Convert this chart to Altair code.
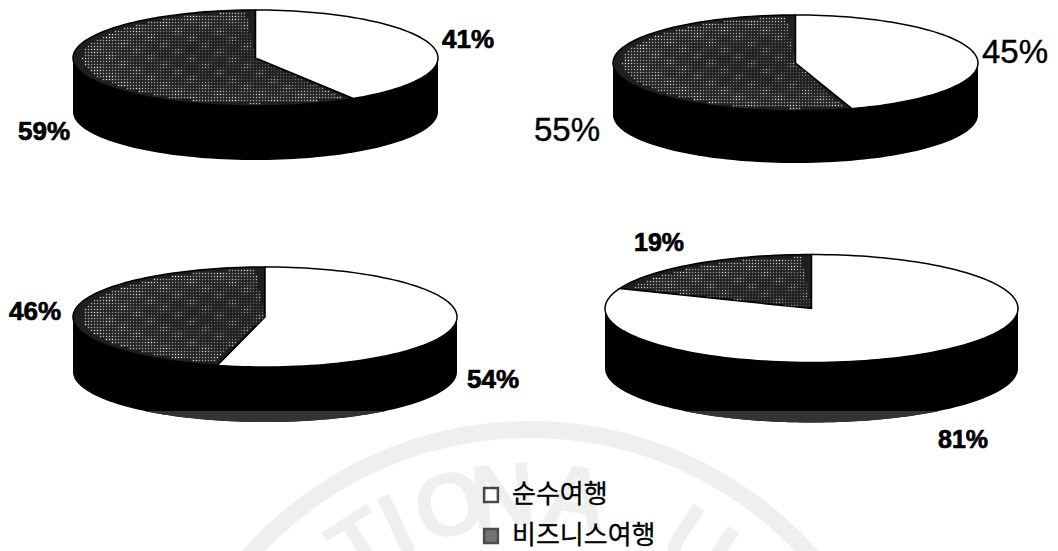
import math
import altair as alt

# Share of pure travel in each pie; business travel takes the remainder.
pure_share = [41, 45, 54, 81]
business_share = [59, 55, 46, 19]
series_names = ["순수여행", "비즈니스여행"]

# Pie geometry: centre, radii, wall depth, and the y where the base shadow begins.
pie_cx = [255.5, 795.5, 265, 811.5]
pie_cy = [58, 63, 317, 308.5]
pie_rx = [182.5, 182.5, 192, 206.5]
pie_ry = [48, 48, 50, 54]
pie_depth = [54, 52, 55, 60]
pie_shadow_y = [None, None, 411, 411]

# Percentage label placement: pure-travel label, then business-travel label.
pure_label_xy = [(468, 40), (1015, 53), (493, 380), (963, 440)]
biz_label_xy = [(44, 132), (567, 131), (35, 312), (659, 243)]
label_size = [26, 33, 26, 25]
label_weight = ["bold", "normal", "bold", "bold"]
label_halo = [0.7, 0.4, 0.7, 0.7]

FACE_DARK = "#1f1f1f"
WALL = "#000000"
SHADOW = "#333333"
RING = "#efefef"

W, H = 1058, 551


def on_page(chart):
    # Identity projection: lon/lat are page pixels, y growing downward.
    return chart.project(type="identity", scale=1, translate=[0, 0])


def feature(ring, fill, stroke, width=0):
    return {
        "type": "Feature",
        "geometry": {"type": "Polygon", "coordinates": [ring]},
        "properties": {"fill": fill, "stroke": stroke, "width": width},
    }


def rim(i, deg, shift=0.0):
    a = math.radians(deg)
    return [pie_cx[i] + pie_rx[i] * math.sin(a), pie_cy[i] - pie_ry[i] * math.cos(a) + shift]


def wedge(i, start, end):
    steps = max(2, int(abs(end - start) / 2))
    pts = [[pie_cx[i], pie_cy[i]]]
    pts += [rim(i, start + (end - start) * k / steps) for k in range(steps + 1)]
    pts.append([pie_cx[i], pie_cy[i]])
    return pts


def wall(i):
    d = pie_depth[i]
    pts = [rim(i, a, d) for a in range(90, 271, 2)]
    pts += [rim(i, a) for a in range(270, 89, -2)]
    pts.append(pts[0])
    return pts


def shadow(i):
    limit = pie_shadow_y[i]
    d = pie_depth[i]
    pts = [rim(i, a / 2, d) for a in range(180, 541)]
    pts = [p for p in pts if p[1] >= limit]
    pts = [[pts[0][0], limit]] + pts + [[pts[-1][0], limit]]
    pts.append(pts[0])
    return pts


# Faint circular seal sitting behind the lower part of the page.
SEAL_X, SEAL_Y, SEAL_OUT, SEAL_IN = 530, 805, 384, 367
seal_letters = ["T", "I", "O", "N", "A", "U"]
seal_angles = [-33, -25.5, -15, -5, 8.5, 33]
SEAL_TEXT_R = 280


def seal_band():
    pts = []
    for a in range(-70, 71):
        r = math.radians(a)
        pts.append([SEAL_X + SEAL_OUT * math.sin(r), SEAL_Y - SEAL_OUT * math.cos(r)])
    for a in range(70, -71, -1):
        r = math.radians(a)
        pts.append([SEAL_X + SEAL_IN * math.sin(r), SEAL_Y - SEAL_IN * math.cos(r)])
    pts.append(pts[0])
    return pts


features = [feature(seal_band(), RING, RING)]
for i in range(4):
    sweep = pure_share[i] * 3.6
    features.append(feature(wall(i), WALL, WALL))
    if pie_shadow_y[i] is not None:
        features.append(feature(shadow(i), SHADOW, SHADOW))
    features.append(feature(wedge(i, sweep, 360), FACE_DARK, WALL, 1.5))
    features.append(feature(wedge(i, 0, sweep), "#ffffff", WALL, 1.5))

# Halftone dots that give the business-travel faces their grainy look:
# dim in the middle, brighter in patches toward the rim.
dots = []
for i in range(4):
    start = pure_share[i] * 3.6
    for px in range(int(pie_cx[i] - pie_rx[i]), int(pie_cx[i] + pie_rx[i]), 3):
        for py in range(int(pie_cy[i] - pie_ry[i]), int(pie_cy[i] + pie_ry[i]), 3):
            u = (px + 0.5 - pie_cx[i]) / pie_rx[i]
            v = (py + 0.5 - pie_cy[i]) / pie_ry[i]
            if u * u + v * v > 0.9:
                continue
            ang = math.degrees(math.atan2(u, -v)) % 360
            if ang < start + 2 or ang > 357:
                continue
            patch = 0.5 + 0.5 * math.cos(px * 0.23) * math.cos(py * 0.31 + px * 0.07)
            edge = max(0.0, u * u + v * v - 0.15)
            dots.append({"lon": px + 0.5, "lat": py + 0.5,
                         "tone": round(min(1.0, 0.25 + 0.55 * patch ** 3 + 0.6 * edge), 2)})

faces = on_page(alt.Chart(alt.Data(values=features, format=alt.DataFormat(type="json"))).mark_geoshape().encode(
    fill=alt.Fill("properties.fill:N", scale=None),
    stroke=alt.Stroke("properties.stroke:N", scale=None),
    strokeWidth=alt.StrokeWidth("properties.width:Q", scale=None),
))

grain = on_page(alt.Chart(alt.Data(values=dots)).mark_square(size=2, color="#e4e4e4", filled=True).encode(
    longitude="lon:Q",
    latitude="lat:Q",
    opacity=alt.Opacity("tone:Q", scale=None),
))

seal_text = []
for ch, ang in zip(seal_letters, seal_angles):
    r = math.radians(ang)
    row = {"t": ch, "lon": SEAL_X + SEAL_TEXT_R * math.sin(r), "lat": SEAL_Y - SEAL_TEXT_R * math.cos(r)}
    seal_text.append(on_page(alt.Chart(alt.Data(values=[row])).mark_text(
        font="Liberation Sans", fontSize=90, fontWeight="bold", color=RING, angle=ang % 360,
        align="center", baseline="alphabetic",
    ).encode(longitude="lon:Q", latitude="lat:Q", text="t:N")))

label_layers = []
for i in range(4):
    rows = [
        {"t": f"{pure_share[i]}%", "lon": pure_label_xy[i][0], "lat": pure_label_xy[i][1]},
        {"t": f"{business_share[i]}%", "lon": biz_label_xy[i][0], "lat": biz_label_xy[i][1]},
    ]
    label_layers.append(on_page(alt.Chart(alt.Data(values=rows)).mark_text(
        font="Liberation Sans", fontSize=label_size[i], fontWeight=label_weight[i],
        color="#000000", stroke="#000000", strokeWidth=label_halo[i], align="center", baseline="middle",
    ).encode(longitude="lon:Q", latitude="lat:Q", text="t:N")))

# Key below the pies.
key_rows = [
    {"t": series_names[0], "mx": 491, "my": 495, "tx": 512, "fill": "#ffffff"},
    {"t": series_names[1], "mx": 491, "my": 536, "tx": 512, "fill": "#3a3a3a"},
]
key_marks = on_page(alt.Chart(alt.Data(values=key_rows)).mark_square(
    size=190, filled=True, stroke="#000000", strokeWidth=2.5
).encode(
    longitude="mx:Q",
    latitude="my:Q",
    fill=alt.Fill("fill:N", scale=None),
))
key_text = on_page(alt.Chart(alt.Data(values=key_rows)).mark_text(
    font="Noto Sans CJK KR", fontSize=26, color="#000000", stroke="#000000", strokeWidth=0.3,
    align="left", baseline="middle",
).encode(longitude="tx:Q", latitude="my:Q", text="t:N"))

chart = alt.layer(
    *seal_text, faces, grain, *label_layers, key_marks, key_text
).properties(
    width=W, height=H, padding=0, autosize=alt.AutoSizeParams(type="none"), background="#ffffff",
).configure_view(stroke=None)

chart.save("out.html", embed_options={"renderer": "svg", "actions": False})
